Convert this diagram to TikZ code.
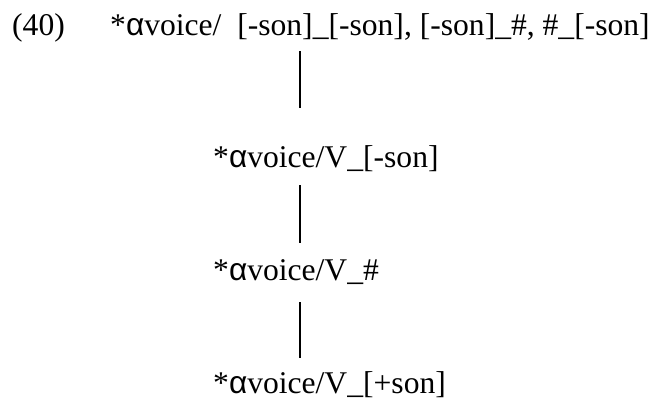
\documentclass[tikz,border=0pt]{standalone}
\usepackage{fontspec}
\setmainfont{Liberation Serif}
\newfontfamily\alphafont{Liberation Sans}
\newcommand{\alf}{{\alphafont α}}
\begin{document}
\begin{tikzpicture}[x=1pt,y=-1pt,
  lbl/.style={anchor=base west,inner sep=0pt,font=\fontsize{31.6}{37}\selectfont},
  conn/.style={line width=1.5pt}]
\useasboundingbox (0,0) rectangle (657,400);
\node[lbl] (num) at (12,35) {(40)};
\node[lbl] (t1) at (110,35) {*\alf voice/\ \ [-son]\_[-son], [-son]\_\#, \#\_[-son]};
\node[lbl] (t2) at (213,167) {*\alf voice/V\_[-son]};
\node[lbl] (t3) at (213,280) {*\alf voice/V\_\#};
\node[lbl] (t4) at (213,393) {*\alf voice/V\_[+son]};
\coordinate (a1) at (300,51);
\coordinate (b1) at (300,108);
\coordinate (a2) at (300,185);
\coordinate (b2) at (300,243);
\coordinate (a3) at (300,302);
\coordinate (b3) at (300,358);
\draw[conn] (a1) -- (b1);
\draw[conn] (a2) -- (b2);
\draw[conn] (a3) -- (b3);
\end{tikzpicture}
\end{document}
